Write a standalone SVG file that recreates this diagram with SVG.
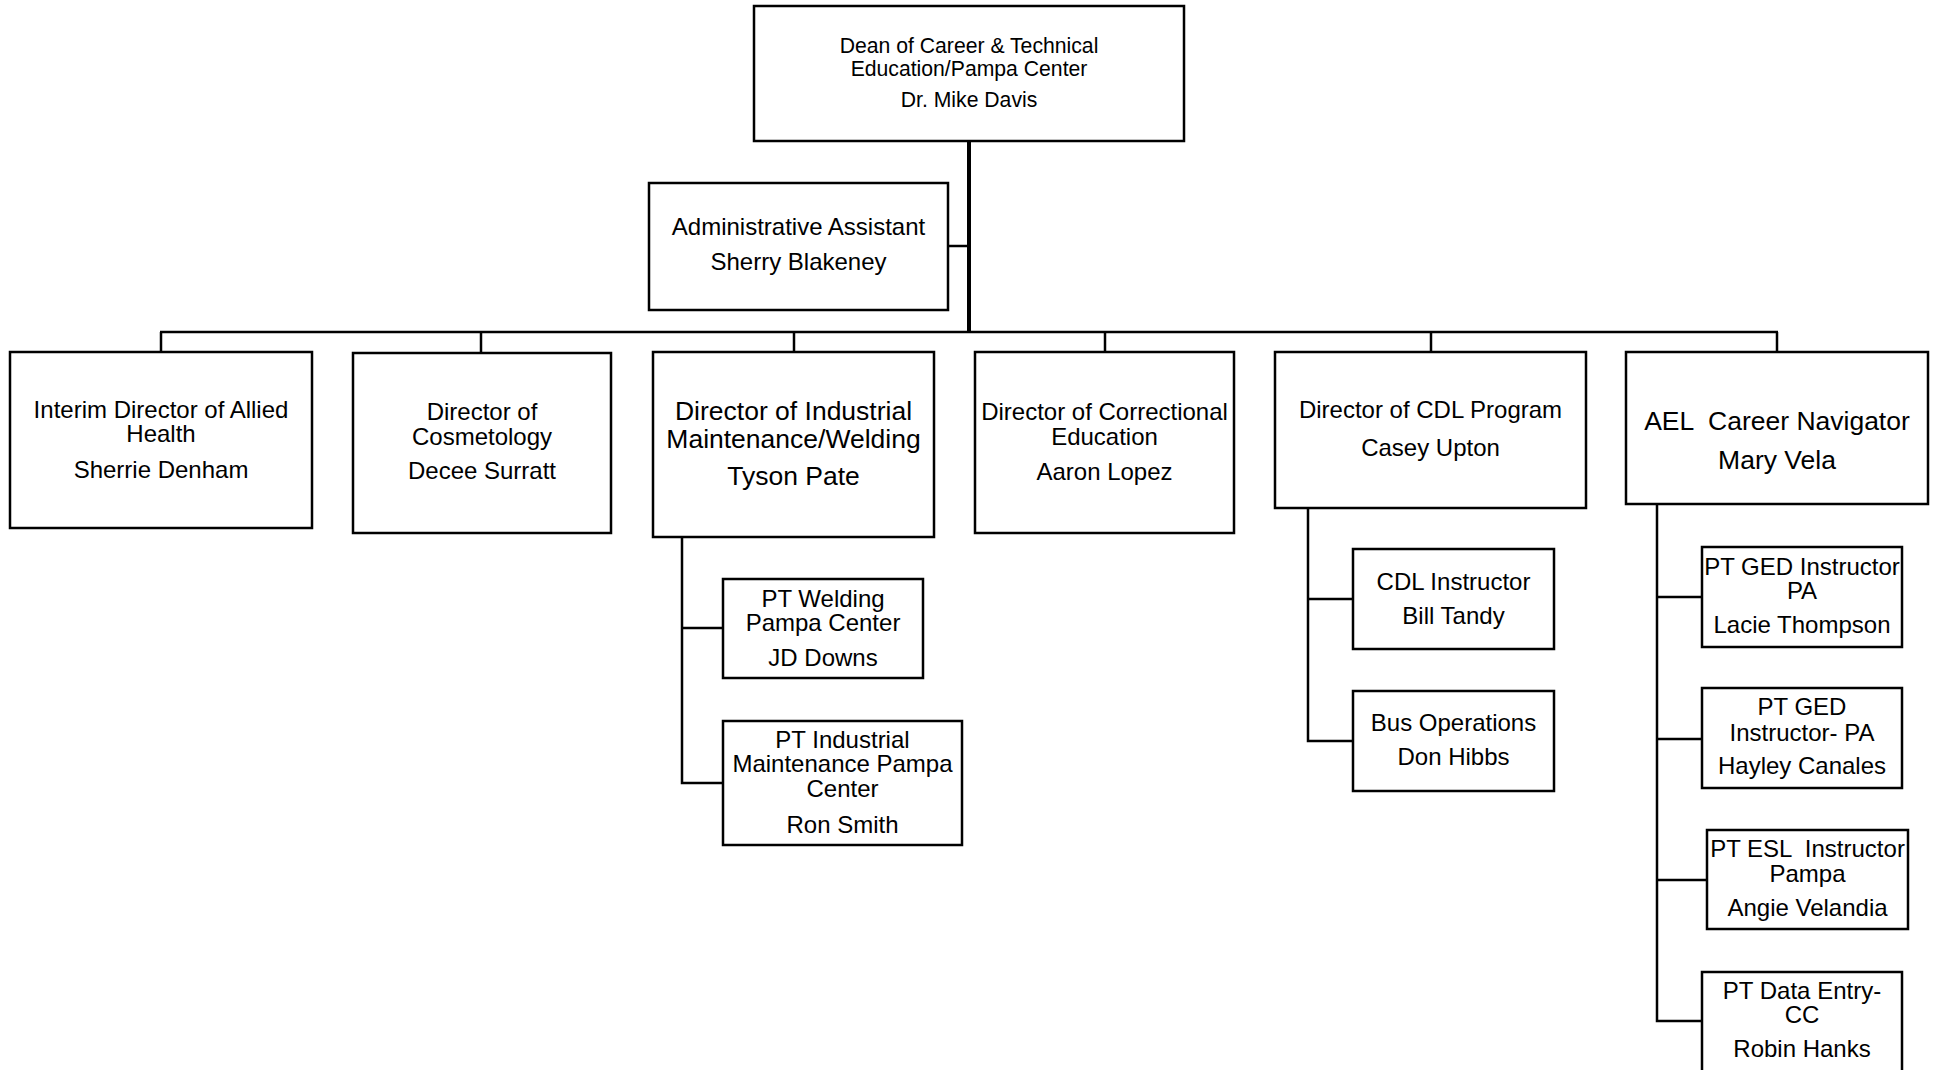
<svg xmlns="http://www.w3.org/2000/svg" width="1939" height="1070" viewBox="0 0 1939 1070">
<style>
.box{fill:#fff;stroke:#000;stroke-width:2.5}
.ln{stroke:#000;stroke-width:2.5;fill:none}
text{font-family:"Liberation Sans",Arial,sans-serif;fill:#000;text-anchor:middle;white-space:pre}
.f21{font-size:21.2px}
.f24{font-size:24px}
.f26{font-size:26.5px}
</style>
<rect width="1939" height="1070" fill="#fff"/>
<g id="connectors">
<line class="ln" x1="969" y1="141" x2="969" y2="333" style="stroke-width:4"/>
<line class="ln" x1="948" y1="246" x2="969" y2="246"/>
<line class="ln" x1="160" y1="332" x2="1778" y2="332"/>
<line class="ln" x1="161" y1="332" x2="161" y2="352"/>
<line class="ln" x1="481" y1="332" x2="481" y2="353"/>
<line class="ln" x1="794" y1="332" x2="794" y2="352"/>
<line class="ln" x1="1105" y1="332" x2="1105" y2="352"/>
<line class="ln" x1="1431" y1="332" x2="1431" y2="352"/>
<line class="ln" x1="1777" y1="332" x2="1777" y2="352"/>
<polyline class="ln" points="682,537 682,783 723,783"/>
<line class="ln" x1="682" y1="628" x2="723" y2="628"/>
<polyline class="ln" points="1308,508 1308,741 1353,741"/>
<line class="ln" x1="1308" y1="599" x2="1353" y2="599"/>
<polyline class="ln" points="1657,504 1657,1021 1702,1021"/>
<line class="ln" x1="1657" y1="597" x2="1702" y2="597"/>
<line class="ln" x1="1657" y1="739" x2="1702" y2="739"/>
<line class="ln" x1="1657" y1="880" x2="1707" y2="880"/>
</g>
<g id="dean">
<rect class="box" x="754" y="6" width="430" height="135"/>
<text class="f21" x="969" y="53">Dean of Career &amp; Technical</text>
<text class="f21" x="969" y="76">Education/Pampa Center</text>
<text class="f21" x="969" y="107">Dr. Mike Davis</text>
</g>
<g id="admin">
<rect class="box" x="649" y="183" width="299" height="127"/>
<text class="f24" x="798.5" y="235">Administrative Assistant</text>
<text class="f24" x="798.5" y="270">Sherry Blakeney</text>
</g>
<g id="allied">
<rect class="box" x="10" y="352" width="302" height="176"/>
<text class="f24" x="161" y="418">Interim Director of Allied</text>
<text class="f24" x="161" y="442">Health</text>
<text class="f24" x="161" y="478">Sherrie Denham</text>
</g>
<g id="cosmetology">
<rect class="box" x="353" y="353" width="258" height="180"/>
<text class="f24" x="482" y="420">Director of</text>
<text class="f24" x="482" y="445">Cosmetology</text>
<text class="f24" x="482" y="479">Decee Surratt</text>
</g>
<g id="industrial">
<rect class="box" x="653" y="352" width="281" height="185"/>
<text class="f26" x="793.5" y="420">Director of Industrial</text>
<text class="f26" x="793.5" y="448">Maintenance/Welding</text>
<text class="f26" x="793.5" y="485">Tyson Pate</text>
</g>
<g id="correctional">
<rect class="box" x="975" y="352" width="259" height="181"/>
<text class="f24" x="1104.5" y="420">Director of Correctional</text>
<text class="f24" x="1104.5" y="445">Education</text>
<text class="f24" x="1104.5" y="480">Aaron Lopez</text>
</g>
<g id="cdl">
<rect class="box" x="1275" y="352" width="311" height="156"/>
<text class="f24" x="1430.5" y="418">Director of CDL Program</text>
<text class="f24" x="1430.5" y="456">Casey Upton</text>
</g>
<g id="ael">
<rect class="box" x="1626" y="352" width="302" height="152"/>
<text class="f26" x="1777" y="430">AEL  Career Navigator</text>
<text class="f26" x="1777" y="469">Mary Vela</text>
</g>
<g id="pt-welding">
<rect class="box" x="723" y="579" width="200" height="99"/>
<text class="f24" x="823" y="607">PT Welding</text>
<text class="f24" x="823" y="631">Pampa Center</text>
<text class="f24" x="823" y="666">JD Downs</text>
</g>
<g id="pt-industrial">
<rect class="box" x="723" y="721" width="239" height="124"/>
<text class="f24" x="842.5" y="748">PT Industrial</text>
<text class="f24" x="842.5" y="772">Maintenance Pampa</text>
<text class="f24" x="842.5" y="797">Center</text>
<text class="f24" x="842.5" y="833">Ron Smith</text>
</g>
<g id="cdl-instructor">
<rect class="box" x="1353" y="549" width="201" height="100"/>
<text class="f24" x="1453.5" y="590">CDL Instructor</text>
<text class="f24" x="1453.5" y="624">Bill Tandy</text>
</g>
<g id="bus-operations">
<rect class="box" x="1353" y="691" width="201" height="100"/>
<text class="f24" x="1453.5" y="731">Bus Operations</text>
<text class="f24" x="1453.5" y="765">Don Hibbs</text>
</g>
<g id="ged1">
<rect class="box" x="1702" y="547" width="200" height="100"/>
<text class="f24" x="1802" y="575">PT GED Instructor</text>
<text class="f24" x="1802" y="599">PA</text>
<text class="f24" x="1802" y="633">Lacie Thompson</text>
</g>
<g id="ged2">
<rect class="box" x="1702" y="688" width="200" height="100"/>
<text class="f24" x="1802" y="715">PT GED</text>
<text class="f24" x="1802" y="741">Instructor- PA</text>
<text class="f24" x="1802" y="774">Hayley Canales</text>
</g>
<g id="esl">
<rect class="box" x="1707" y="830" width="201" height="99"/>
<text class="f24" x="1807.5" y="857">PT ESL  Instructor</text>
<text class="f24" x="1807.5" y="882">Pampa</text>
<text class="f24" x="1807.5" y="916">Angie Velandia</text>
</g>
<g id="data-entry">
<rect class="box" x="1702" y="972" width="200" height="110"/>
<text class="f24" x="1802" y="999">PT Data Entry-</text>
<text class="f24" x="1802" y="1023">CC</text>
<text class="f24" x="1802" y="1057">Robin Hanks</text>
</g>
</svg>
